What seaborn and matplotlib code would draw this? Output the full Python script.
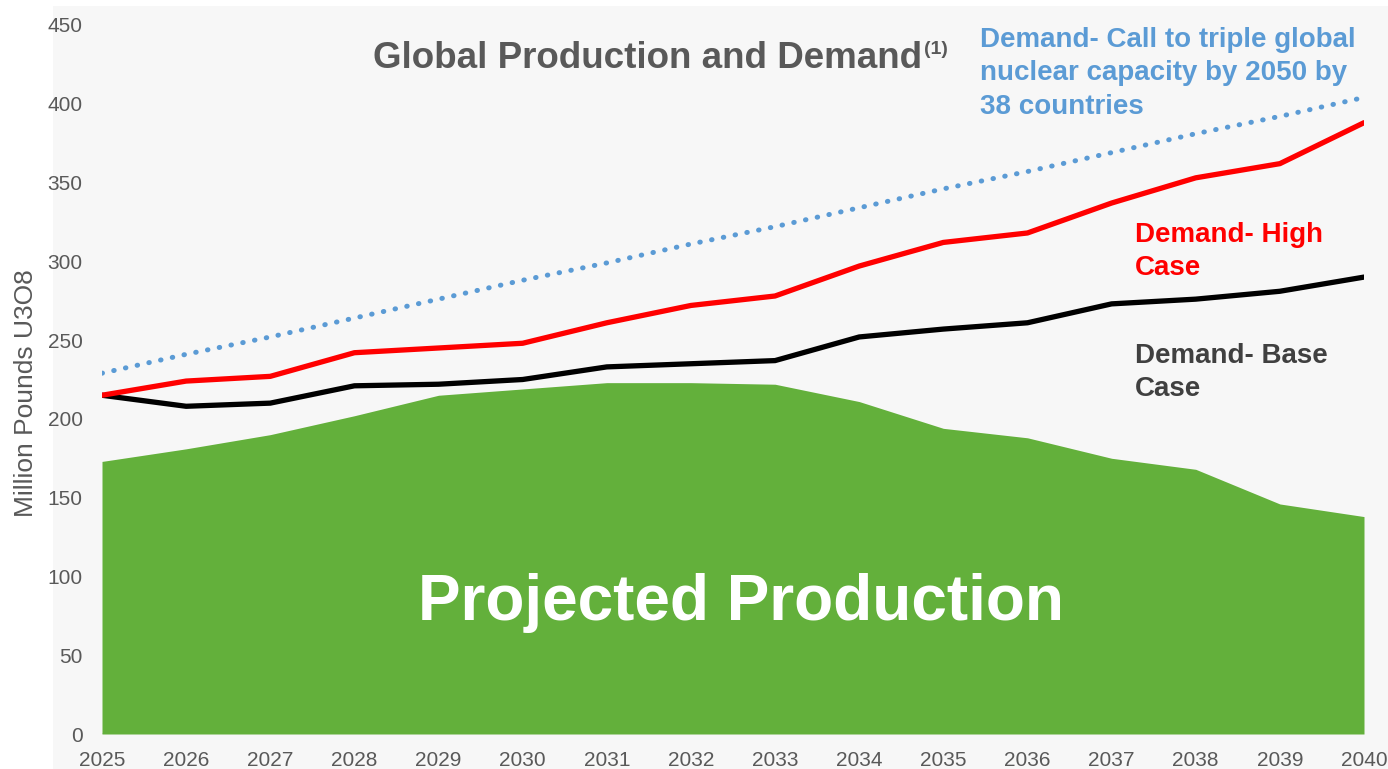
import numpy as np
import pandas as pd
import matplotlib
matplotlib.use("Agg")
import matplotlib.pyplot as plt
import seaborn as sns
from matplotlib.patches import Rectangle

# values (million pounds U3O8)
years = list(range(2025, 2041))
production = [173, 181, 190, 202, 215, 219, 223, 223, 222, 211, 194, 188, 175, 168, 146, 138]
demand_base = [215, 208, 210, 221, 222, 225, 233, 235, 237, 252, 257, 261, 273, 276, 281, 290]
demand_high = [215, 224, 227, 242, 245, 248, 261, 272, 278, 297, 312, 318, 337, 353, 362, 388]
demand_triple = [229, 241, 252, 264, 276, 288, 299, 311, 322, 334, 346, 357, 369, 381, 392, 404]
y_ticks = list(range(0, 451, 50))

df = pd.DataFrame({
    "Year": years,
    "Production": production,
    "Base": demand_base,
    "High": demand_high,
    "Triple": demand_triple,
})

sns.set_theme(style="white")
plt.rcParams["font.family"] = ["Liberation Sans", "DejaVu Sans"]

GREEN = "#63b03b"
BLUE = "#5b9bd5"
GREY_TXT = "#595959"
BG = "#f7f7f7"

fig = plt.figure(figsize=(13.88, 7.69), dpi=100)
fig.patch.set_facecolor("white")
# light grey panel behind the chart
fig.patches.append(Rectangle((53 / 1388, 0), 1 - 53 / 1388, 1 - 6 / 769,
                             transform=fig.transFigure, facecolor=BG,
                             edgecolor="none", zorder=-5))

ax = fig.add_axes([102 / 1388, 1 - 734 / 769, (1364 - 102) / 1388, (734 - 25) / 769])
ax.set_zorder(1)
ax.patch.set_alpha(0)

# projected production area
ax.fill_between(df["Year"], 0, df["Production"], color=GREEN, linewidth=0, zorder=1)
ax.axhline(0, color="#d6d6d6", linewidth=2, zorder=0.5)

# demand lines
sns.lineplot(data=df, x="Year", y="Triple", ax=ax, color=BLUE, linewidth=3.6,
             linestyle=(0, (0.1, 2.3)), dash_capstyle="round", zorder=3)
sns.lineplot(data=df, x="Year", y="Base", ax=ax, color="black", linewidth=3.8, zorder=4)
sns.lineplot(data=df, x="Year", y="High", ax=ax, color="#ff0000", linewidth=3.8, zorder=5)

ax.set_xlim(2025, 2040)
ax.set_ylim(0, 450)
ax.set_xticks(years)
ax.set_xticklabels([str(y) for y in years])
ax.set_yticks(y_ticks)
ax.tick_params(axis="both", length=0, labelsize=15, labelcolor=GREY_TXT)
ax.tick_params(axis="y", pad=14)
ax.tick_params(axis="x", pad=12)
ax.set_xlabel("")
ax.set_ylabel("Million Pounds U3O8", fontsize=19, color=GREY_TXT)
ax.yaxis.set_label_coords(-0.051, 0.481)
for s in ax.spines.values():
    s.set_visible(False)

# title and annotations
fig.text(373 / 1388, 1 - 68 / 769, "Global Production and Demand", fontsize=26.5,
         fontweight="bold", color=GREY_TXT, va="baseline")
fig.text(924 / 1388, 1 - 54 / 769, "(1)", fontsize=14, fontweight="bold",
         color=GREY_TXT, va="baseline")

blue_lines = ["Demand- Call to triple global", "nuclear capacity by 2050 by", "38 countries"]
for i, line in enumerate(blue_lines):
    fig.text(980 / 1388, 1 - (47 + 33.5 * i) / 769, line, fontsize=20,
             fontweight="bold", color=BLUE, va="baseline")

fig.text(1135 / 1388, 1 - 242 / 769, "Demand- High", fontsize=20,
         fontweight="bold", color="#ff0000", va="baseline")
fig.text(1135 / 1388, 1 - 275 / 769, "Case", fontsize=20,
         fontweight="bold", color="#ff0000", va="baseline")
fig.text(1135 / 1388, 1 - 363 / 769, "Demand- Base", fontsize=20,
         fontweight="bold", color="#404040", va="baseline")
fig.text(1135 / 1388, 1 - 396 / 769, "Case", fontsize=20,
         fontweight="bold", color="#404040", va="baseline")

fig.text(741 / 1388, 1 - 620 / 769, "Projected Production", fontsize=46,
         fontweight="bold", color="white", ha="center", va="baseline", zorder=10)

fig.savefig("out.png", dpi=100, facecolor=fig.get_facecolor())
